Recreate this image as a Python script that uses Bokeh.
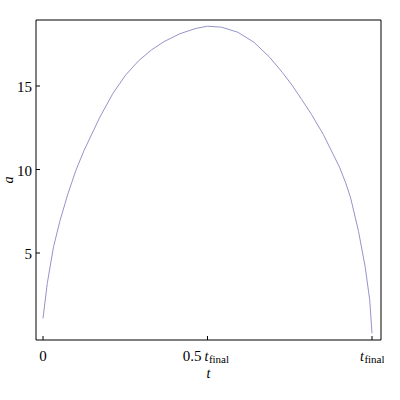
from bokeh.plotting import figure
from bokeh.models import Range1d
from bokeh.core.properties import value
from bokeh.embed import file_html
from bokeh.resources import INLINE
import math

# ---- data ----
t_vals = [0.0, 0.013, 0.032, 0.052, 0.076, 0.100, 0.125, 0.173, 0.212, 0.251,
          0.290, 0.329, 0.367, 0.416, 0.465, 0.500, 0.543, 0.592, 0.641, 0.689,
          0.728, 0.757, 0.786, 0.816, 0.852, 0.901, 0.920, 0.935, 0.959, 0.979,
          0.993, 1.0]
a_vals = [1.09, 3.18, 5.37, 6.96, 8.56, 9.95, 11.15, 13.14, 14.54, 15.65,
          16.50, 17.15, 17.65, 18.13, 18.45, 18.58, 18.52, 18.22, 17.62, 16.72,
          15.80, 15.05, 14.20, 13.30, 12.10, 10.15, 9.20, 8.30, 6.30, 4.20,
          2.20, 0.19]

x_ticks = [0, 0.5, 1]
y_ticks = [5, 10, 15]
y_tick_labels = ["5", "10", "15"]
x_tick_main = ["0", "0.5", ""]        # upright part of each x tick label
x_tick_t = ["", "t", "t"]             # italic t
x_tick_sub = ["", "final", "final"]   # subscript

x_title = "t"
y_title = "a"

FONT = "Liberation Serif"

# ---- layout (pixels) ----
W, H = 384, 384
PX0, SX = 42.5, 329.0     # pixel of t=0, pixels per unit t
PY0, SY = 336.0, 16.7     # pixel of a=0, pixels per unit a
FL, FR, FT, FB = 35.5, 380.5, 19.5, 339.5   # frame edges (pixels)

def dx(px):
    return (px - PX0) / SX

def dy(py):
    return (PY0 - py) / SY

p = figure(width=W, height=H, output_backend="svg", toolbar_location=None,
           x_range=Range1d(dx(0), dx(W)), y_range=Range1d(dy(H), dy(0)),
           x_axis_type=None, y_axis_type=None,
           min_border=0, min_border_left=0, min_border_right=0,
           min_border_top=0, min_border_bottom=0)
p.outline_line_color = None
p.background_fill_color = "white"
p.border_fill_color = "white"
p.grid.visible = False

left, right, top, bottom = dx(FL), dx(FR), dy(FT), dy(FB)

# curve
p.line(t_vals, a_vals, line_color="#9494ca", line_width=1)

# frame
p.quad(left=[left], right=[right], top=[top], bottom=[bottom],
       fill_color=None, line_color="black", line_width=1)

# ticks (inward, 4px)
p.segment(x0=x_ticks, y0=[bottom] * len(x_ticks), x1=x_ticks,
          y1=[bottom + 4 / SY] * len(x_ticks), line_color="black", line_width=1)
p.segment(x0=[left] * len(y_ticks), y0=y_ticks, x1=[left + 4 / SX] * len(y_ticks),
          y1=y_ticks, line_color="black", line_width=1)

# y tick labels
p.text(x=[left] * len(y_ticks), y=y_ticks, text=y_tick_labels,
       x_offset=-4, y_offset=1, text_align="right", text_baseline="middle",
       text_font=value(FONT), text_font_size=value("15px"), text_color="black")

# x tick labels
for tk, m, tt, sub in zip(x_ticks, x_tick_main, x_tick_t, x_tick_sub):
    if not sub:
        p.text(x=[tk], y=[bottom], text=[m], x_offset=0, y_offset=16,
               text_align="center", text_baseline="alphabetic",
               text_font=value(FONT), text_font_size=value("15px"), text_color="black")
        continue
    base = -3.0 if m else -12.0
    if m:
        p.text(x=[tk], y=[bottom], text=[m], x_offset=base - 3.0, y_offset=16,
               text_align="right", text_baseline="alphabetic",
               text_font=value(FONT), text_font_size=value("15px"), text_color="black")
    p.text(x=[tk], y=[bottom], text=[tt], x_offset=base, y_offset=16,
           text_align="left", text_baseline="alphabetic",
           text_font=value(FONT), text_font_style="italic",
           text_font_size=value("14px"), text_color="black")
    p.text(x=[tk], y=[bottom], text=[sub], x_offset=base + 4.4, y_offset=18.5,
           text_align="left", text_baseline="alphabetic",
           text_font=value(FONT), text_font_size=value("11px"), text_color="black")

# axis titles
p.text(x=[(left + right) / 2], y=[bottom], text=[x_title], x_offset=0, y_offset=33,
       text_align="center", text_baseline="middle",
       text_font=value(FONT), text_font_style="italic",
       text_font_size=value("14px"), text_color="black")
p.text(x=[dx(8)], y=[(top + bottom) / 2], text=[y_title], angle=math.pi / 2,
       text_align="center", text_baseline="middle",
       text_font=value(FONT), text_font_style="italic",
       text_font_size=value("14px"), text_color="black")

open("out.html", "w").write(file_html(p, INLINE))
